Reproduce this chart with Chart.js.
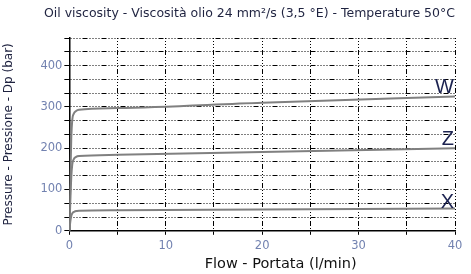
<!DOCTYPE html>
<html>
<head>
<meta charset="utf-8">
<script src="https://cdn.jsdelivr.net/npm/chart.js@4/dist/chart.umd.min.js"></script>
<style>
  html, body { margin: 0; padding: 0; background: #fff; }
  #wrap { width: 471px; height: 274px; }
</style>
</head>
<body>
<div id="wrap"><canvas id="chart"></canvas></div>
<script>
// curves (flow l/min, pressure bar)
const flowW = [0, 0.1, 0.2, 0.3, 0.45, 0.7, 1, 5, 20, 40];
const presW = [0, 120, 225, 268, 283, 290, 293, 297, 310, 325];
const flowZ = [0, 0.1, 0.2, 0.3, 0.45, 0.7, 1, 5, 20, 40];
const presZ = [0, 70, 130, 160, 173, 179, 181, 184, 191, 200];
const flowX = [0, 0.1, 0.2, 0.3, 0.5, 0.8, 1, 5, 20, 40];
const presX = [0, 22, 36, 42, 46, 48, 48.5, 49.5, 51.5, 54];

const curveNames = ["W", "Z", "X"];
const nameAt = [334, 208, 55]; // pressure at the letter baseline, at 40 l/min

const toPts = (xs, ys) => xs.map((x, i) => ({x: x, y: ys[i]}));

const gridDash = [1, 2, 1, 2, 1, 2, 1, 2, 5, 2];
const FONT = "'DejaVu Sans', Verdana, sans-serif";

const curveLabels = {
    id: "curveLabels",
    afterDatasetsDraw(chart) {
        const {ctx, scales} = chart;
        ctx.save();
        ctx.font = "20px 'Liberation Sans', Arial, sans-serif";
        ctx.fillStyle = "#1b2250";
        ctx.textAlign = "right";
        ctx.textBaseline = "alphabetic";
        curveNames.forEach((n, i) => {
            ctx.fillText(n, scales.x.getPixelForValue(40) - 1, scales.y.getPixelForValue(nameAt[i]));
        });
        ctx.restore();
    }
};

const ds = (pts) => ({
    data: pts,
    borderColor: "#808080",
    borderWidth: 2,
    pointRadius: 0,
    cubicInterpolationMode: "monotone",
    fill: false
});

new Chart(document.getElementById("chart"), {
    type: "line",
    data: {
        datasets: [
            ds(toPts(flowW, presW)),
            ds(toPts(flowZ, presZ)),
            ds(toPts(flowX, presX))
        ]
    },
    options: {
        responsive: true,
        maintainAspectRatio: false,
        animation: false,
        layout: {padding: {left: 1, right: 16, top: 1, bottom: 1}},
        plugins: {
            legend: {display: false},
            tooltip: {enabled: false},
            title: {
                display: true,
                align: "end",
                text: "Oil viscosity - Viscosità olio 24 mm²/s (3,5 °E) - Temperature 50°C",
                color: "#1f2340",
                font: {family: FONT, size: 12.5, weight: "normal"},
                padding: {top: 5, bottom: 17}
            }
        },
        scales: {
            x: {
                type: "linear",
                min: 0,
                max: 40,
                ticks: {
                    stepSize: 5,
                    autoSkip: false,
                    maxRotation: 0,
                    color: "#7282b0",
                    font: {family: FONT, size: 11.5},
                    padding: 4,
                    callback: v => (v % 10 === 0 ? v : "")
                },
                grid: {color: "#000", lineWidth: 1, tickLength: 4, tickBorderDash: []},
                border: {color: "#000", width: 1.5, dash: gridDash},
                title: {
                    display: true,
                    // leading spaces push it right of centre, as in the original
                    text: "        Flow - Portata (l/min)",
                    color: "#111",
                    font: {family: FONT, size: 14.5},
                    padding: {top: -1, bottom: 0}
                }
            },
            y: {
                type: "linear",
                min: 0,
                max: 1400 / 3,
                ticks: {
                    stepSize: 100 / 3,
                    autoSkip: false,
                    color: "#7282b0",
                    font: {family: FONT, size: 11.5},
                    padding: 2,
                    callback: v => {
                        const r = Math.round(v);
                        return (Math.abs(v - r) < 0.01 && r % 100 === 0) ? r : "";
                    }
                },
                grid: {color: "#000", lineWidth: 1, tickLength: 5, tickBorderDash: []},
                border: {color: "#000", width: 1.5, dash: gridDash},
                title: {
                    display: true,
                    text: "Pressure - Pressione - Dp (bar)",
                    color: "#1f2340",
                    font: {family: FONT, size: 12},
                    padding: {top: 1, bottom: 22}
                }
            }
        }
    },
    plugins: [curveLabels]
});
</script>
</body>
</html>
